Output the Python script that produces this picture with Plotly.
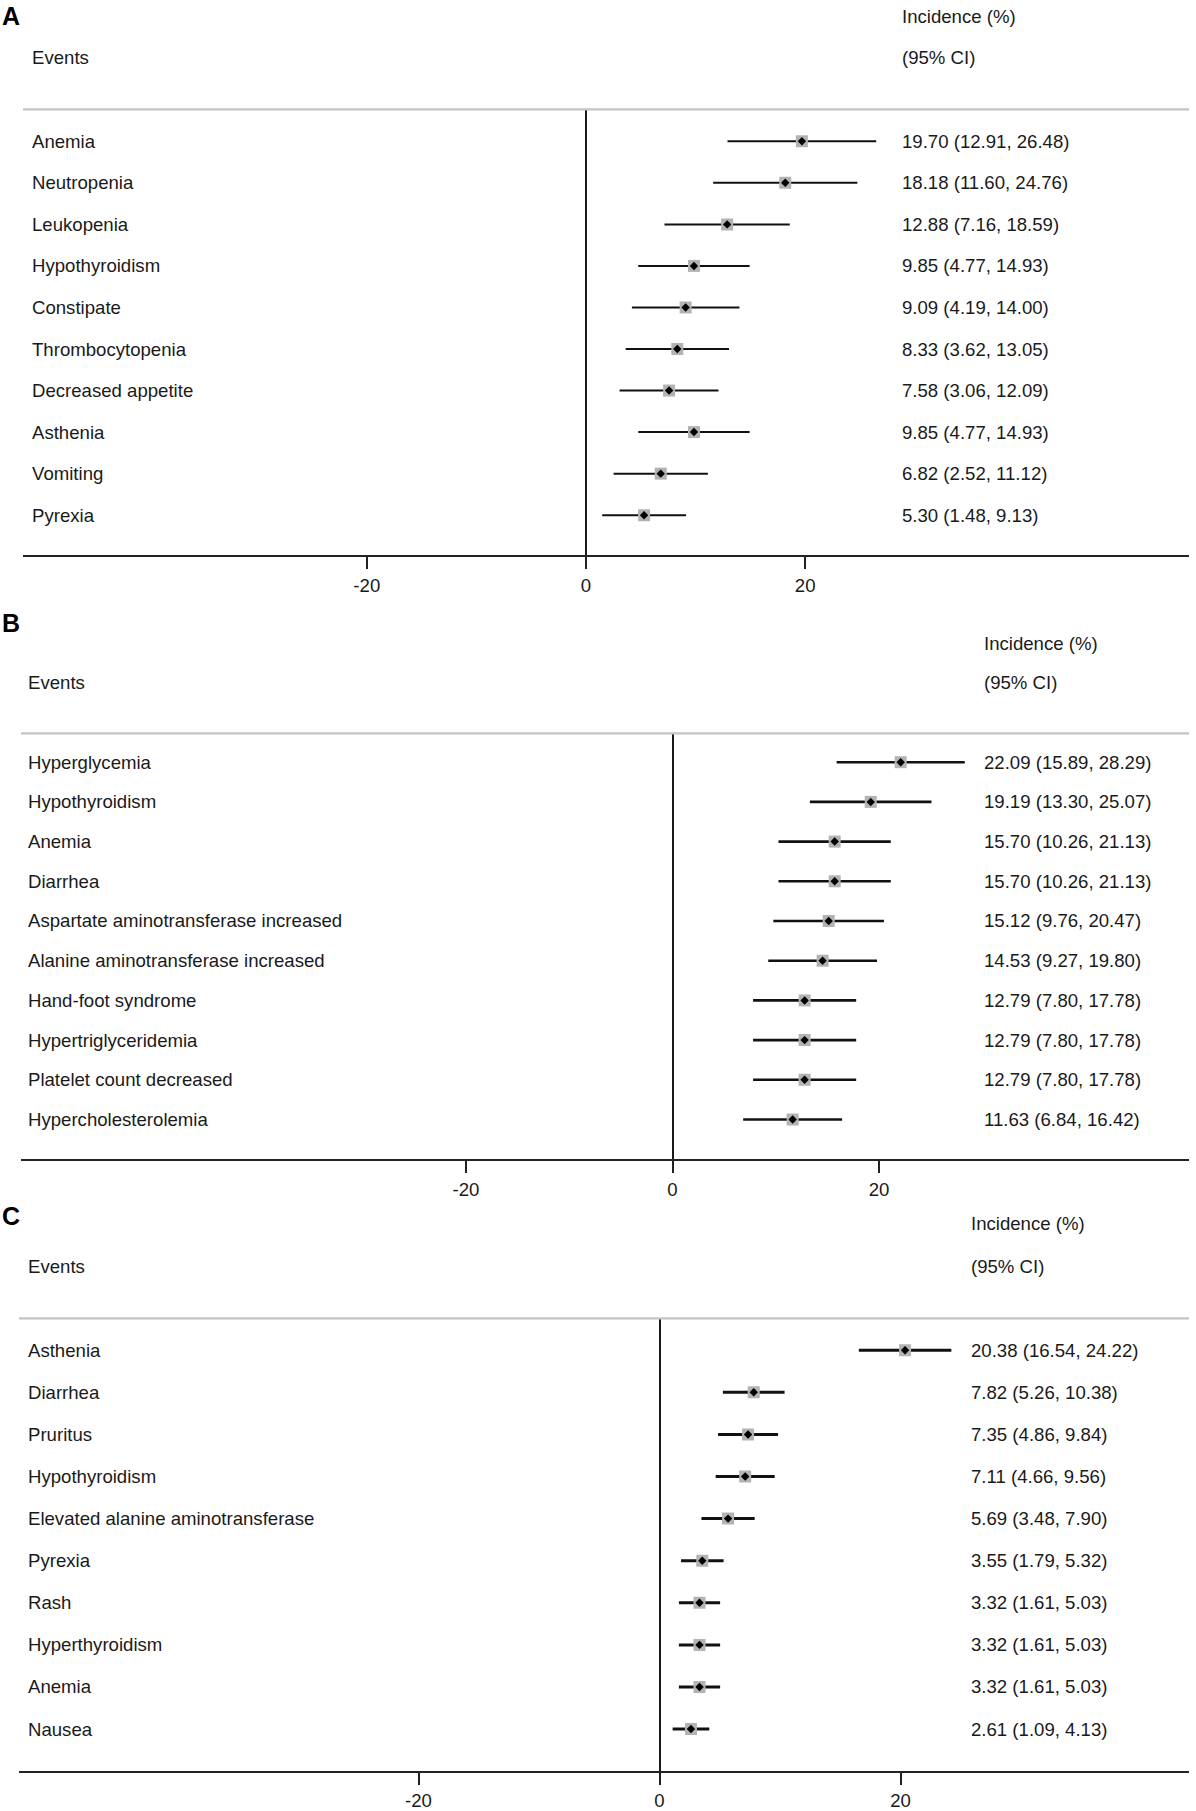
import plotly.graph_objects as go

W, H = 1196, 1811

# ---------------- data ----------------
a_events = ["Anemia", "Neutropenia", "Leukopenia", "Hypothyroidism", "Constipate",
            "Thrombocytopenia", "Decreased appetite", "Asthenia", "Vomiting", "Pyrexia"]
a_est = [19.70, 18.18, 12.88, 9.85, 9.09, 8.33, 7.58, 9.85, 6.82, 5.30]
a_lo = [12.91, 11.60, 7.16, 4.77, 4.19, 3.62, 3.06, 4.77, 2.52, 1.48]
a_hi = [26.48, 24.76, 18.59, 14.93, 14.00, 13.05, 12.09, 14.93, 11.12, 9.13]

b_events = ["Hyperglycemia", "Hypothyroidism", "Anemia", "Diarrhea",
            "Aspartate aminotransferase increased", "Alanine aminotransferase increased",
            "Hand-foot syndrome", "Hypertriglyceridemia", "Platelet count decreased",
            "Hypercholesterolemia"]
b_est = [22.09, 19.19, 15.70, 15.70, 15.12, 14.53, 12.79, 12.79, 12.79, 11.63]
b_lo = [15.89, 13.30, 10.26, 10.26, 9.76, 9.27, 7.80, 7.80, 7.80, 6.84]
b_hi = [28.29, 25.07, 21.13, 21.13, 20.47, 19.80, 17.78, 17.78, 17.78, 16.42]

c_events = ["Asthenia", "Diarrhea", "Pruritus", "Hypothyroidism",
            "Elevated alanine aminotransferase", "Pyrexia", "Rash", "Hyperthyroidism",
            "Anemia", "Nausea"]
c_est = [20.38, 7.82, 7.35, 7.11, 5.69, 3.55, 3.32, 3.32, 3.32, 2.61]
c_lo = [16.54, 5.26, 4.86, 4.66, 3.48, 1.79, 1.61, 1.61, 1.61, 1.09]
c_hi = [24.22, 10.38, 9.84, 9.56, 7.90, 5.32, 5.03, 5.03, 5.03, 4.13]

panel_letters = ["A", "B", "C"]
tick_vals = [-20, 0, 20]
tick_text = ["-20", "0", "20"]
header_events = "Events"
header_inc = "Incidence (%)"
header_ci = "(95% CI)"

# ---------------- layout geometry (pixels) ----------------
FONT = "Liberation Sans, Arial, Helvetica, sans-serif"
FS = 18.6
panels = [
    dict(events=a_events, est=a_est, lo=a_lo, hi=a_hi,
         x0=23, x1=1189, zero=586, ppu=10.96,
         top=110, bottom=558, row1=142, step=41.75,
         label_x=30, val_x=900, letter_y=16, inc_y=17, ev_y=58, lw=2.0),
    dict(events=b_events, est=b_est, lo=b_lo, hi=b_hi,
         x0=21, x1=1189, zero=672.5, ppu=10.33,
         top=737, bottom=1165, row1=766, step=39.9,
         label_x=26, val_x=982, letter_y=626, inc_y=647, ev_y=686, lw=2.6),
    dict(events=c_events, est=c_est, lo=c_lo, hi=c_hi,
         x0=19, x1=1189, zero=659.5, ppu=12.05,
         top=1325, bottom=1780, row1=1357, step=42.3,
         label_x=26, val_x=969, letter_y=1222, inc_y=1230, ev_y=1273, lw=3.0),
]


def xp(px):
    return px / W


def yp(px):
    return 1 - px / H


fig = go.Figure()
annotations = []
shapes = []

for k, p in enumerate(panels):
    sfx = "" if k == 0 else str(k + 1)
    xa, ya = "x" + sfx, "y" + sfx
    n = len(p["events"])
    rows = list(range(1, n + 1))
    err_plus = [h - e for h, e in zip(p["hi"], p["est"])]
    err_minus = [e - l for e, l in zip(p["est"], p["lo"])]

    fig.add_trace(go.Scatter(
        x=p["est"], y=rows, mode="markers", xaxis=xa, yaxis=ya,
        marker=dict(symbol="square", size=12, color="#b3b3b3", line=dict(width=0)),
        error_x=dict(type="data", symmetric=False, array=err_plus, arrayminus=err_minus,
                     thickness=p["lw"], width=0, color="#111111"),
        hoverinfo="skip"))
    fig.add_trace(go.Scatter(
        x=p["est"], y=rows, mode="markers", xaxis=xa, yaxis=ya,
        marker=dict(symbol="diamond", size=6.5, color="#000000", line=dict(width=0)),
        hoverinfo="skip"))

    lo_v = (p["x0"] - p["zero"]) / p["ppu"]
    hi_v = (p["x1"] - p["zero"]) / p["ppu"]
    r_top = 1 - (p["row1"] - p["top"]) / p["step"]
    r_bot = n + (p["bottom"] - (p["row1"] + (n - 1) * p["step"])) / p["step"]

    fig.update_layout(**{
        "xaxis" + sfx: dict(
            domain=[xp(p["x0"]), xp(p["x1"])], range=[lo_v, hi_v], anchor=ya,
            showgrid=False, zeroline=True, zerolinecolor="#1a1a1a", zerolinewidth=1.8,
            showline=True, linecolor="#222222", linewidth=2,
            ticks="outside", ticklen=12, tickwidth=1.6, tickcolor="#222222",
            tickvals=tick_vals, ticktext=tick_text, ticklabelstandoff=0,
            tickfont=dict(family=FONT, size=FS, color="#1a1a1a"), fixedrange=True),
        "yaxis" + sfx: dict(
            domain=[yp(p["bottom"]), yp(p["top"])], range=[r_bot, r_top], anchor=xa,
            visible=False, showgrid=False, zeroline=False, fixedrange=True),
    })

    # separator line under header
    shapes.append(dict(type="line", xref="paper", yref="paper",
                       x0=xp(p["x0"]), x1=xp(p["x1"]), y0=yp(p["top"]), y1=yp(p["top"]),
                       line=dict(color="#c4c4c4", width=2.2)))

    # headers
    annotations.append(dict(text="<b>%s</b>" % panel_letters[k], xref="paper", yref="paper",
                            x=0, y=yp(p["letter_y"]), xanchor="left", yanchor="middle",
                            showarrow=False, font=dict(family=FONT, size=25, color="#000")))
    annotations.append(dict(text=header_events, xref="paper", yref="paper",
                            x=xp(p["label_x"]), y=yp(p["ev_y"]), xanchor="left",
                            yanchor="middle", showarrow=False,
                            font=dict(family=FONT, size=FS, color="#1a1a1a")))
    annotations.append(dict(text=header_inc, xref="paper", yref="paper",
                            x=xp(p["val_x"]), y=yp(p["inc_y"]), xanchor="left",
                            yanchor="middle", showarrow=False,
                            font=dict(family=FONT, size=FS, color="#1a1a1a")))
    annotations.append(dict(text=header_ci, xref="paper", yref="paper",
                            x=xp(p["val_x"]), y=yp(p["ev_y"]), xanchor="left",
                            yanchor="middle", showarrow=False,
                            font=dict(family=FONT, size=FS, color="#1a1a1a")))

    # row labels and values
    for r, ev, e, l, h in zip(rows, p["events"], p["est"], p["lo"], p["hi"]):
        annotations.append(dict(text=ev, xref="paper", yref=ya, x=xp(p["label_x"]), y=r,
                                xanchor="left", yanchor="middle", showarrow=False,
                                font=dict(family=FONT, size=FS, color="#1a1a1a")))
        annotations.append(dict(text="%.2f (%.2f, %.2f)" % (e, l, h), xref="paper", yref=ya,
                                x=xp(p["val_x"]), y=r, xanchor="left", yanchor="middle",
                                showarrow=False,
                                font=dict(family=FONT, size=FS, color="#1a1a1a")))

fig.update_layout(width=W, height=H, margin=dict(l=0, r=0, t=0, b=0),
                  paper_bgcolor="white", plot_bgcolor="white", showlegend=False,
                  annotations=annotations, shapes=shapes)

fig.write_html("out.html", config={"displayModeBar": False},
               post_script="document.body.style.margin='0';"
                           "document.body.style.overflow='hidden';")
